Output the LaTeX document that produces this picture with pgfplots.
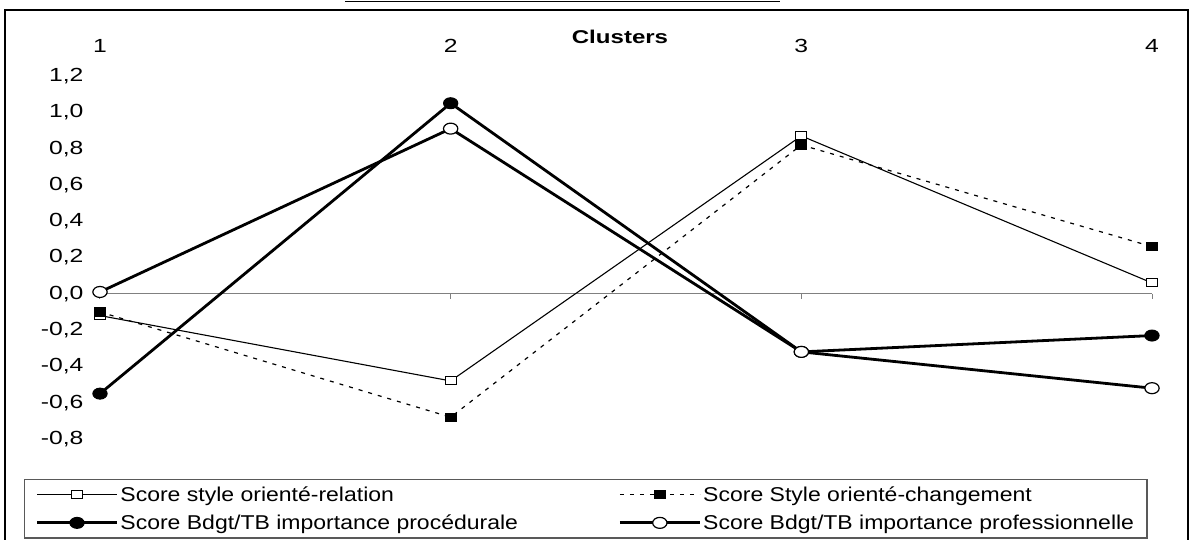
\documentclass[border=0pt]{standalone}
\usepackage{fontspec}
\setmainfont{Liberation Sans}
\newfontfamily\tickfont{Liberation Sans}[FakeStretch=1.3]
\newfontfamily\legfont{Liberation Sans}[FakeStretch=1.15]
\usepackage{pgfplots}
\pgfplotsset{compat=1.18}
\begin{document}
\begin{tikzpicture}
\useasboundingbox (0,0) rectangle (1190pt,539pt);
% outer frame (bottom edge cut off)
\draw[line width=2pt] (5pt,-5pt) -- (5pt,529pt) -- (1188pt,529pt) -- (1188pt,-5pt);
\draw[line width=1.2pt] (345pt,537.5pt) -- (780pt,537.5pt);
\begin{axis}[
  at={(100pt,100pt)}, anchor=south west,
  scale only axis, width=1052pt, height=363pt,
  xmin=1, xmax=4, ymin=-0.8, ymax=1.2,
  clip=false,
  axis line style={draw=none},
  tick style={draw=none},
  xtick={1,2,3,4},
  ytick={-0.8,-0.6,-0.4,-0.2,0,0.2,0.4,0.6,0.8,1.0,1.2},
  xticklabel pos=upper,
  /pgf/number format/assume math mode=true,
  ticklabel style={font=\tickfont\fontsize{19}{22}\selectfont},
  yticklabel style={xshift=-13pt, /pgf/number format/fixed, /pgf/number format/fixed zerofill, /pgf/number format/precision=1, /pgf/number format/use comma},
  xticklabel style={yshift=20pt},
  xlabel={Clusters},
  xlabel style={at={(axis description cs:0.5,1)}, anchor=center, yshift=39pt, xshift=-6pt, font=\tickfont\fontsize{18.5}{21}\selectfont\bfseries},
  legend columns=2,
  legend cell align=left,
  legend style={at={(-0.0722,-0.110)}, anchor=north west, draw=gray!70!black, line width=1.2pt,
     font=\legfont\fontsize{20}{23}\selectfont, inner xsep=11pt, inner ysep=5pt, row sep=8pt,
     /tikz/every even column/.append style={column sep=56pt}},
  legend image code/.code={\draw[mark repeat=2,mark phase=2,#1] plot coordinates {(0pt,0pt) (40pt,0pt) (80pt,0pt)};},
]
\draw[gray, line width=1pt] (axis cs:1,0) -- (axis cs:4,0);
\pgfplotsinvokeforeach{1,2,3,4}{\draw[gray, line width=1pt] (axis cs:#1,0) -- ([yshift=-5pt]axis cs:#1,0);}
\addplot[black, line width=1.1pt, mark=square*, mark size=4pt, mark options={fill=white, solid, xscale=1.35, line width=1.1pt}]
  coordinates {(1,-0.12) (2,-0.48) (3,0.87) (4,0.06)};
\addlegendentry{\makebox[440pt][l]{Score style orienté-relation}}
\addplot[black, line width=1.2pt, dash pattern=on 4pt off 6pt, mark=square*, mark size=4pt, mark options={fill=black, solid, xscale=1.35}]
  coordinates {(1,-0.10) (2,-0.68) (3,0.82) (4,0.26)};
\addlegendentry{Score Style orienté-changement}
\addplot[black, line width=2.8pt, mark=*, mark size=5.5pt, mark options={fill=black, solid, xscale=1.3, line width=1pt}]
  coordinates {(1,-0.55) (2,1.05) (3,-0.32) (4,-0.23)};
\addlegendentry{\makebox[440pt][l]{Score Bdgt/TB importance procédurale}}
\addplot[black, line width=2.8pt, mark=*, mark size=5.5pt, mark options={fill=white, solid, xscale=1.3, line width=1.2pt}]
  coordinates {(1,0.01) (2,0.91) (3,-0.32) (4,-0.52)};
\addlegendentry{Score Bdgt/TB importance professionnelle}
\end{axis}
\end{tikzpicture}
\end{document}
